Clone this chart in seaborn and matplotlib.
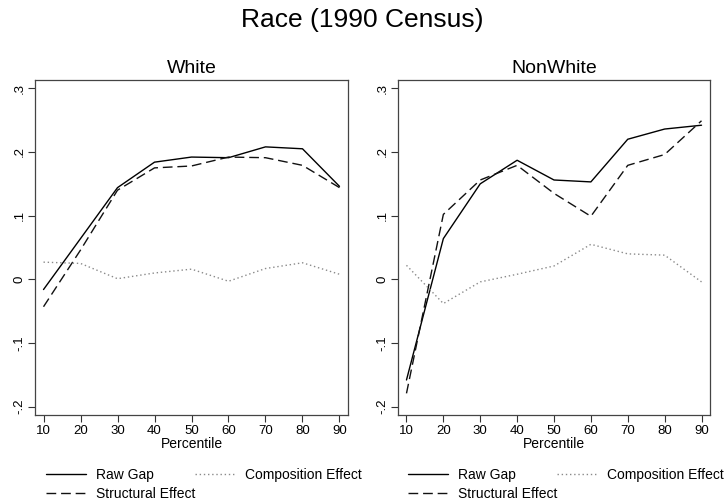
import numpy as np
import pandas as pd
import matplotlib
matplotlib.use("Agg")
import matplotlib.pyplot as plt
import seaborn as sns
from matplotlib.ticker import FuncFormatter

percentiles = [10, 20, 30, 40, 50, 60, 70, 80, 90]

white_raw = [-0.016, 0.064, 0.144, 0.184, 0.192, 0.191, 0.208, 0.205, 0.146]
white_struct = [-0.043, 0.046, 0.140, 0.175, 0.178, 0.192, 0.191, 0.179, 0.144]
white_comp = [0.027, 0.025, 0.001, 0.010, 0.016, -0.003, 0.017, 0.026, 0.008]

nonwhite_raw = [-0.158, 0.064, 0.150, 0.187, 0.156, 0.153, 0.220, 0.236, 0.242]
nonwhite_struct = [-0.179, 0.102, 0.156, 0.179, 0.135, 0.099, 0.179, 0.196, 0.249]
nonwhite_comp = [0.022, -0.038, -0.004, 0.008, 0.021, 0.055, 0.040, 0.038, -0.004]

series_names = ["Raw Gap", "Structural Effect", "Composition Effect"]
panel_titles = ["White", "NonWhite"]
main_title = "Race (1990 Census)"
y_ticks = [-0.2, -0.1, 0.0, 0.1, 0.2, 0.3]

sns.set_theme(style="white")
plt.rcParams['font.family'] = ['Liberation Sans', 'DejaVu Sans']
plt.rcParams['text.color'] = 'black'
plt.rcParams['axes.labelcolor'] = 'black'
plt.rcParams['xtick.color'] = 'black'
plt.rcParams['ytick.color'] = 'black'


def long_df(raw, struct, comp):
    rows = []
    for name, vals in zip(series_names, [raw, struct, comp]):
        for p, v in zip(percentiles, vals):
            rows.append({"Percentile": p, "value": v, "series": name})
    return pd.DataFrame(rows)


data = [long_df(white_raw, white_struct, white_comp),
        long_df(nonwhite_raw, nonwhite_struct, nonwhite_comp)]

palette = {"Raw Gap": "#000000", "Structural Effect": "#111111",
           "Composition Effect": "#8a8a8a"}
dashes = {"Raw Gap": "", "Structural Effect": (7, 3.5),
          "Composition Effect": (1, 2)}

fig = plt.figure(figsize=(7.25, 5.04), dpi=100)
fig.patch.set_facecolor("white")

axes_pos = [[35 / 725, 1 - 415 / 504, (348 - 35) / 725, (415 - 80) / 504],
            [398 / 725, 1 - 415 / 504, (710 - 398) / 725, (415 - 80) / 504]]
legend_x = [46 / 725, 408 / 725]


def fmt(v, pos):
    if abs(v) < 1e-9:
        return "0"
    s = f"{v:.1f}"
    return s.replace("0.", ".")


for i, ax_pos in enumerate(axes_pos):
    ax = fig.add_axes(ax_pos)
    sns.lineplot(data=data[i], x="Percentile", y="value", hue="series",
                 style="series", palette=palette, dashes=dashes,
                 hue_order=series_names, style_order=series_names,
                 linewidth=1.0, ax=ax, legend=True)
    ax.set_xlim(7.7, 92.3)
    ax.set_ylim(-0.213, 0.313)
    ax.set_xticks(percentiles)
    ax.set_yticks(y_ticks)
    ax.yaxis.set_major_formatter(FuncFormatter(fmt))
    ax.tick_params(axis="both", which="major", direction="out", length=5,
                   width=0.8, color="#333333", labelsize=9.5, pad=2,
                   left=True, bottom=True, labelcolor="black")
    for lab in ax.get_yticklabels():
        lab.set_rotation(90)
        lab.set_va("center")
    ax.set_xlabel("Percentile", fontsize=10, labelpad=0, color="black")
    ax.set_ylabel("")
    ax.set_title(panel_titles[i], fontsize=14, pad=5, color="black")
    for sp in ax.spines.values():
        sp.set_color("#444444")
        sp.set_linewidth(0.9)
    handles, labels = ax.get_legend_handles_labels()
    ax.get_legend().remove()
    hmap = dict(zip(labels, handles))
    order = ["Raw Gap", "Structural Effect", "Composition Effect"]
    leg = fig.legend([hmap[k] for k in order], order, loc="upper left",
                     bbox_to_anchor=(legend_x[i], 1 - 468 / 504), ncol=2,
                     frameon=False, fontsize=10, handlelength=2.9,
                     handletextpad=0.7, columnspacing=0.0, labelspacing=0.38,
                     borderpad=0, borderaxespad=0)
    for t in leg.get_texts():
        t.set_color("black")

fig.suptitle(main_title, fontsize=19, y=1 - 8 / 504, va="top", color="black")

fig.savefig("out.png", dpi=100, facecolor="white")
